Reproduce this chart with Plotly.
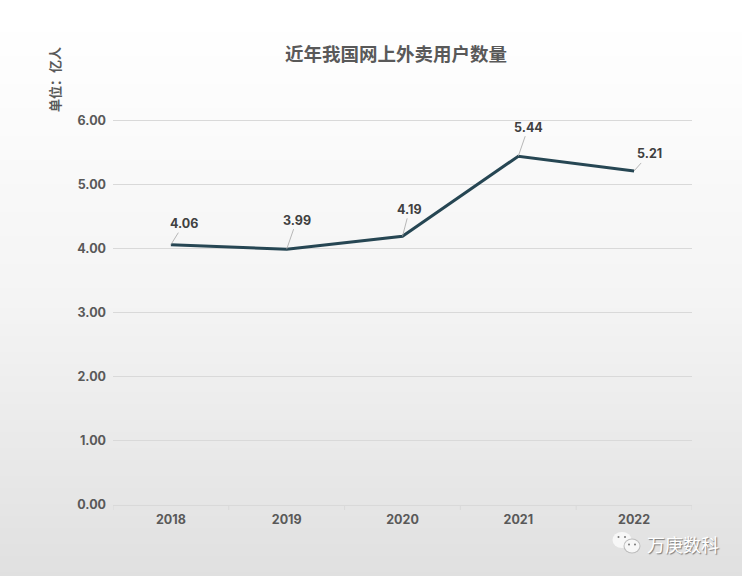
import plotly.graph_objects as go

years = ["2018", "2019", "2020", "2021", "2022"]
users = [4.06, 3.99, 4.19, 5.44, 5.21]
y_ticks = [0, 1, 2, 3, 4, 5, 6]
label_dx = [13, 10, 7, 10, 15]
label_dy = [-21, -29, -27, -29, -17]
title = "近年我国网上外卖用户数量"
unit = "单位：亿人"
brand = "万庚数科"

W, H = 742, 576
L, R, T, B = 113, 50, 119, 71
pw, ph = W - L - R, H - T - B
NUM = "Inter, 'Noto Sans', sans-serif"
CJK = "'Noto Sans CJK SC', sans-serif"


def px(x):
    return (x - L) / pw


def py(y):
    return 1 - (y - T) / ph


shapes = []
# page gradient: slow in the upper half, faster in the lower half
for r in range(0, H, 4):
    if r < 16:
        c = 255
    elif r < 300:
        c = 255 - 11 * (r - 16) / 284
    else:
        c = 244 - 20 * (r - 300) / 276
    c = round(c)
    shapes.append(dict(type="rect", xref="paper", yref="paper", layer="below",
                       x0=px(0), x1=px(W), y0=py(r), y1=py(r + 4),
                       fillcolor=f"rgb({c},{c},{c})", line_width=0))
# tick marks between categories on the axis
for i in range(6):
    shapes.append(dict(type="line", xref="x", yref="paper", x0=i - 0.5, x1=i - 0.5,
                       y0=py(505), y1=py(510), line=dict(color="#d9d9d9", width=1)))


# WeChat-like icon
def bubble(cx, cy, rx, ry, col="#f7f7f7"):
    shapes.append(dict(type="circle", xref="paper", yref="paper",
                       x0=px(cx - rx), x1=px(cx + rx), y0=py(cy + ry), y1=py(cy - ry),
                       fillcolor=col, line_width=0))


bubble(622, 540, 9.5, 8)
bubble(632, 546, 8.5, 7.5, "#bdbdbd")
bubble(632, 546, 7.5, 6.5)
for cx, cy in [(618.5, 537), (625, 537), (629, 544.5), (635, 544.5)]:
    bubble(cx, cy, 1, 1, "#777777")

annotations = [
    dict(text=f"<b>{title}</b>", xref="paper", yref="paper", x=px(395.5), y=py(53),
         xanchor="center", yanchor="middle",
         showarrow=False, font=dict(family=CJK, size=18.5, color="#595959")),
    dict(text=f"<b>{unit}</b>", xref="paper", yref="paper", x=px(54), y=py(80),
         xanchor="center", yanchor="middle",
         showarrow=False, textangle=-90, font=dict(family=CJK, size=13, color="#595959")),
    dict(text=brand, xref="paper", yref="paper", x=px(683), y=py(544),
         xanchor="center", yanchor="middle",
         showarrow=False, font=dict(family=CJK, size=18, color="#ffffff",
                                    shadow="1px 1px 1px #777777")),
]
for i, v in enumerate(users):
    annotations.append(dict(
        x=i, y=v, xref="x", yref="y", text=f"<b>{v:.2f}</b>", showarrow=True,
        arrowhead=0, arrowwidth=0.8, arrowcolor="#a6a6a6",
        ax=label_dx[i], ay=label_dy[i], axref="pixel", ayref="pixel", standoff=0,
        font=dict(family=NUM, size=12.5, color="#404040")))

fig = go.Figure(go.Scatter(x=list(range(5)), y=users, mode="lines",
                           line=dict(color="#264653", width=3), hoverinfo="skip"))
fig.update_layout(
    width=W, height=H, margin=dict(l=L, r=R, t=T, b=B, pad=0),
    paper_bgcolor="#ffffff", plot_bgcolor="rgba(0,0,0,0)",
    showlegend=False, shapes=shapes, annotations=annotations,
    xaxis=dict(range=[-0.5, 4.5], tickvals=list(range(5)), ticktext=years, ticks="",
               showgrid=False, zeroline=False, showline=True, linecolor="#d9d9d9", linewidth=1,
               ticklabelstandoff=3,
               tickfont=dict(family=NUM, size=12.5, color="#595959", weight="bold")),
    yaxis=dict(range=[0, 6.02], tickvals=y_ticks, ticktext=[f"{v:.2f}" for v in y_ticks],
               showgrid=True, gridcolor="#d9d9d9", gridwidth=1, zeroline=False, ticks="",
               ticklabelstandoff=6,
               tickfont=dict(family=NUM, size=12.5, color="#595959", weight="bold")),
)
fig.write_html("out.html", config=dict(displayModeBar=False),
               post_script="document.body.style.margin='0';document.body.style.overflow='hidden';")
